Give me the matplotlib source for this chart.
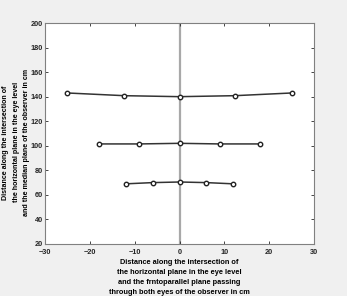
"""Recreate the three-row distance plot (MATLAB-style)."""

import matplotlib

matplotlib.use("Agg")
import matplotlib.pyplot as plt

# data
far_x = [-25, -12.3, 0, 12.3, 25]
far_y = [143, 140.8, 140, 140.8, 143]
mid_x = [-18, -9, 0, 9, 18]
mid_y = [101.5, 101.5, 102, 101.5, 101.5]
near_x = [-12, -6, 0, 6, 12]
near_y = [69, 70, 70.5, 70, 69]

x_ticks = [-30, -20, -10, 0, 10, 20, 30]
y_ticks = [20, 40, 60, 80, 100, 120, 140, 160, 180, 200]

plt.rcParams.update(
    {
        "font.family": ["Liberation Sans", "DejaVu Sans"],
        "font.weight": "bold",
        "font.size": 5.5,
    }
)

fig = plt.figure(figsize=(3.47, 2.96), dpi=100, facecolor="#f0f0f0")
ax = fig.add_axes([45 / 347, 1 - 244 / 296, 269 / 347, 221 / 296])
ax.set_facecolor("white")

ax.axvline(0, color="#a8a8a8", lw=1.6, zorder=1)
for xs, ys in [(far_x, far_y), (mid_x, mid_y), (near_x, near_y)]:
    ax.plot(xs, ys, color="#333333", lw=1.1, marker="o", ms=3.2,
            mfc="white", mec="#222222", mew=1.0, zorder=3)

ax.set_xlim(-30, 30)
ax.set_ylim(20, 200)
ax.set_xticks(x_ticks)
ax.set_yticks(y_ticks)
ax.tick_params(direction="in", length=2.5, width=0.6, colors="#262626",
               top=True, right=True, labelsize=5.3, pad=1.5)
ax.tick_params(axis="x", pad=3.5)
for s in ax.spines.values():
    s.set_color("#808080")
    s.set_linewidth(0.8)

ax.set_xlabel("Distance along the intersection of\n"
              "the horizontal plane in the eye level\n"
              "and the frntoparallel plane passing\n"
              "through both eyes of the observer in cm",
              fontsize=5.3, fontweight="bold", linespacing=1.6, labelpad=2)
ax.set_ylabel("Distance along the intersection of\n"
              "the horizontal plane in the eye level\n"
              "and the median plane of the observer in cm",
              fontsize=5.1, fontweight="bold", linespacing=1.65)
ax.yaxis.set_label_coords(-15 / 269, 0.46)

fig.savefig("out.png", dpi=100, facecolor=fig.get_facecolor())
